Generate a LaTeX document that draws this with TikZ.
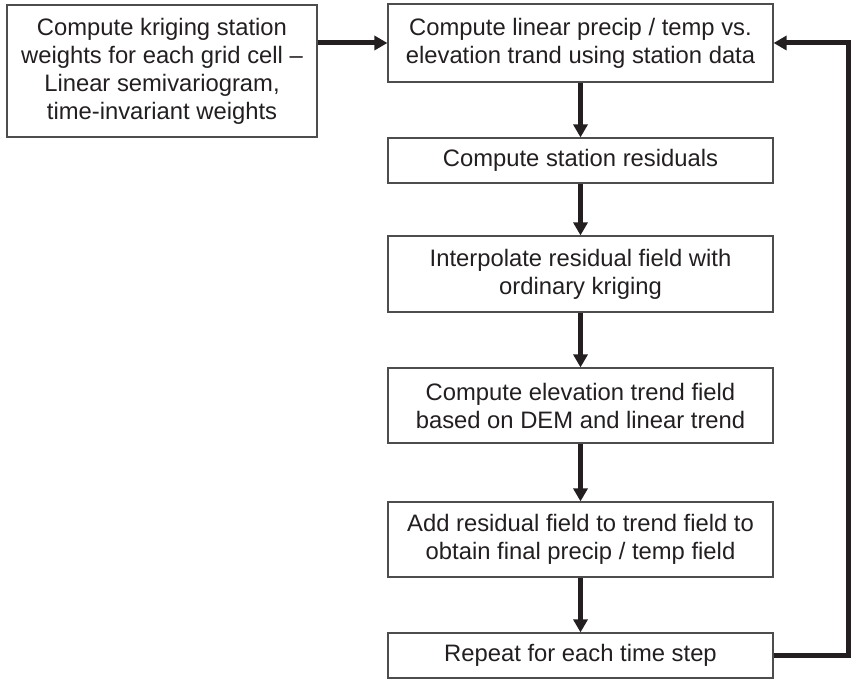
\documentclass[tikz,border=0pt]{standalone}
\usepackage{fontspec}
\setmainfont{Liberation Sans}
\usetikzlibrary{arrows.meta}
\definecolor{ink}{HTML}{231F20}
\definecolor{rim}{HTML}{4D4D4D}
\tikzset{
  stepbox/.style={draw=rim, line width=1.2pt, minimum width=385pt, align=center,
    inner sep=0pt, text=ink, font=\fontsize{23.8}{28}\selectfont},
  flow/.style={-{Triangle[width=14pt,length=13pt]}, line width=5pt, draw=ink}
}
\begin{document}
\begin{tikzpicture}[x=1pt, y=-1pt]
    \useasboundingbox (0, 0) rectangle (854, 679);
    \node[stepbox, minimum width=310pt, minimum height=132pt] (kriging) at (162, 71)
        {Compute kriging station\\weights for each grid cell --\\Linear semivariogram,\\time-invariant weights};
    \node[stepbox, minimum height=78pt] (trend) at (580.5, 43)
        {Compute linear precip / temp vs.\\elevation trand using station data};
    \node[stepbox, minimum height=45pt] (resid) at (580.5, 160.5) {Compute station residuals};
    \node[stepbox, minimum height=76pt] (interp) at (580.5, 274)
        {Interpolate residual field with\\ordinary kriging};
    \node[stepbox, minimum height=75pt] (elev) at (580.5, 405.5)
        {Compute elevation trend field\\based on DEM and linear trend};
    \node[stepbox, minimum height=75pt] (final) at (580.5, 539.5)
        {Add residual field to trend field to\\obtain final precip / temp field};
    \node[stepbox, minimum height=45pt] (repeat) at (580.5, 655.5) {Repeat for each time step};
    \coordinate (loop) at (848, 655.5);
    % arrows
    \draw[flow] (kriging.east |- trend.west) -- (trend.west);
    \draw[flow] (trend) -- (resid);
    \draw[flow] (resid) -- (interp);
    \draw[flow] (interp) -- (elev);
    \draw[flow] (elev) -- (final);
    \draw[flow] (final) -- (repeat);
    \draw[flow] (repeat.east) -- (loop) |- (trend.east);
\end{tikzpicture}
\end{document}
